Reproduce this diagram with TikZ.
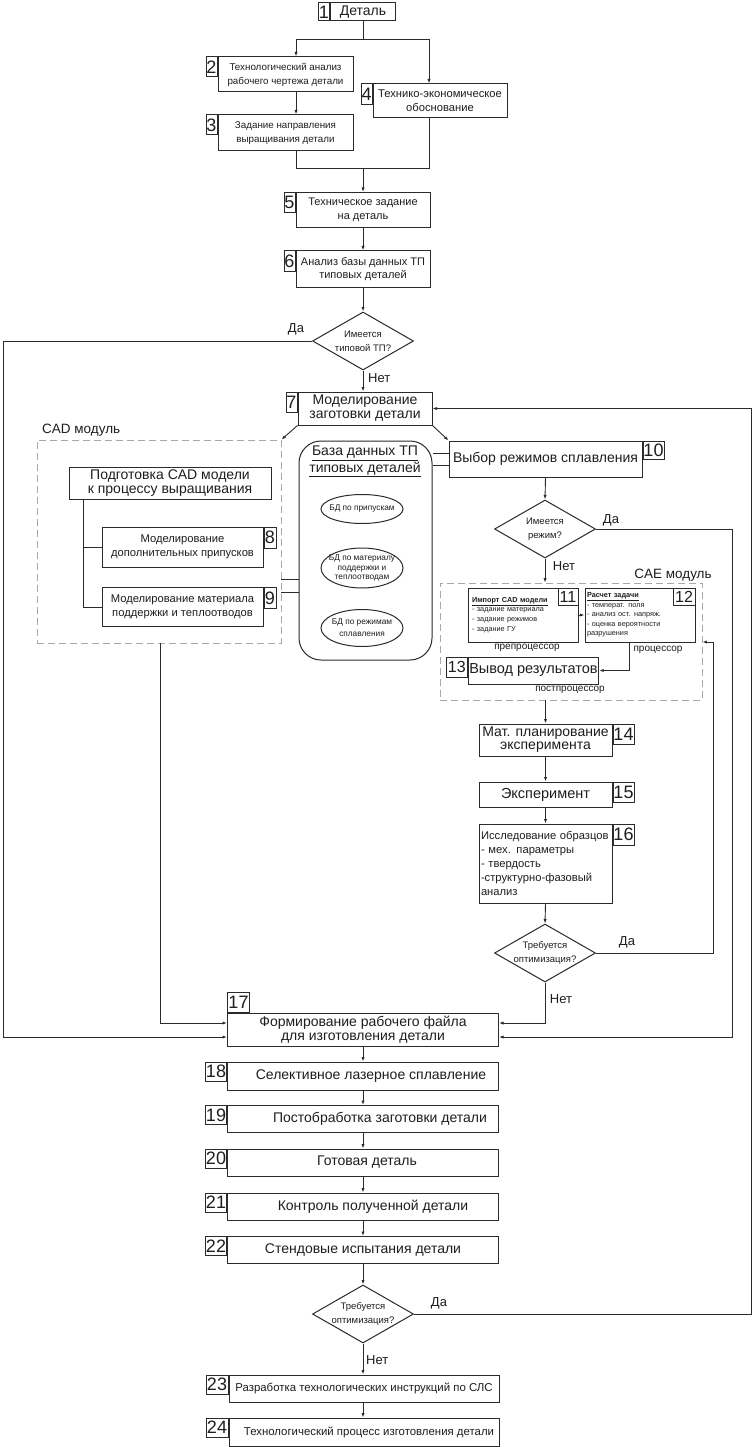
\documentclass[tikz,border=0pt]{standalone}
\usepackage{fontspec}
\setmainfont{Liberation Sans}
\usetikzlibrary{arrows.meta,shapes.geometric,calc}
\definecolor{lc}{HTML}{2B2B2B}
\definecolor{tc}{HTML}{1E1E1E}
\definecolor{dc}{HTML}{A8A8A8}
\newcommand{\fz}[2]{\fontsize{#1}{#2}\selectfont}
\begin{document}
\begin{tikzpicture}[x=1pt,y=-1pt,
  ln/.style={draw=lc, line width=0.9pt},
  arr/.style={ln, -{Latex[length=4.5pt,width=3.2pt]}},
  box/.style={draw=lc, line width=1pt, inner sep=1pt, align=center, text=tc},
  nb/.style={draw=lc, line width=1pt, inner sep=0pt, text=tc, font=\fz{18}{18}},
  nbs/.style={draw=lc, line width=1pt, inner sep=0pt, text=tc, font=\fz{16}{16}},
  dia/.style={diamond, draw=lc, line width=1pt, inner sep=0pt, minimum width=101, minimum height=58},
  dtxt/.style={align=center, text=tc, inner sep=0pt, font=\fz{9.5}{14}},
  dbox/.style={draw=dc, line width=0.8pt, dash pattern=on 7pt off 4pt},
  lab/.style={text=tc, font=\fz{13}{14}, inner sep=0pt},
  sub/.style={text=tc, font=\fz{10}{12}, inner sep=0pt},
  ell/.style={ellipse, draw=lc, line width=1pt, inner sep=0pt, minimum width=82},
  etxt/.style={align=center, text=tc, inner sep=0pt, font=\fz{8.3}{9.3}}
]
\useasboundingbox[fill=white] (0,0) rectangle (755,1447);

% ---------- top part ----------
\node[box, minimum width=65, minimum height=18, font=\fz{14}{14}] (b1) at (363,12) {Деталь};
\node[nb, minimum width=11, minimum height=18, anchor=north east] (n1) at (b1.north west) {1};

\node[box, minimum width=135, minimum height=35, font=\fz{9.8}{14}] (b2) at (285.5,74.5)
  {Технологический анализ\\рабочего чертежа детали};
\node[nb, minimum width=11, minimum height=20, anchor=north east] (n2) at (b2.north west) {2};

\node[box, minimum width=135, minimum height=36, font=\fz{9.8}{14}] (b3) at (285.5,133)
  {Задание направления\\выращивания детали};
\node[nb, minimum width=11, minimum height=20, anchor=north east] (n3) at (b3.north west) {3};

\node[box, minimum width=134, minimum height=34, font=\fz{11.2}{14}] (b4) at (440,101)
  {Технико-экономическое\\обоснование};
\node[nb, minimum width=11, minimum height=21, anchor=north east] (n4) at (b4.north west) {4};

\node[box, minimum width=134, minimum height=35, font=\fz{11}{13.5}] (b5) at (363,210)
  {Техническое задание\\на деталь};
\node[nb, minimum width=11, minimum height=20, anchor=north east] (n5) at (b5.north west) {5};

\node[box, minimum width=134, minimum height=36, font=\fz{11}{13.5}] (b6) at (363,269)
  {Анализ базы данных ТП\\типовых деталей};
\node[nb, minimum width=11, minimum height=20, anchor=north east] (n6) at (b6.north west) {6};

\node[dia] (d1) at (363,341) {};
\node[dtxt] (d1t) at (d1.center) {Имеется\\типовой ТП?};
\node[lab] (l1da) at (296,329) {Да};
\node[lab, anchor=west] (l1net) at (368,378) {Нет};

\node[box, minimum width=134, minimum height=33, font=\fz{14}{14}] (b7) at (365,408.5)
  {Моделирование\\заготовки детали};
\node[nb, minimum width=11, minimum height=20, anchor=north east] (n7) at (b7.north west) {7};

% ---------- CAD module ----------
\node[dbox, minimum width=244, minimum height=203] (cad) at (159,541.5) {};
\node[lab, anchor=west, font=\fz{13.5}{14}] (cadl) at (42,430) {CAD модуль};
\node[box, minimum width=202, minimum height=32, font=\fz{14}{14}] (bp) at (170,483)
  {Подготовка CAD модели\\к процессу выращивания};
\node[box, minimum width=161, minimum height=40, font=\fz{11.2}{14}] (b8) at (182.5,547)
  {Моделирование\\дополнительных припусков};
\node[nb, minimum width=12, minimum height=21, anchor=north west] (n8) at (b8.north east) {8};
\node[box, minimum width=161, minimum height=39, font=\fz{11.2}{14}] (b9) at (182.5,607)
  {Моделирование материала\\поддержки и теплоотводов};
\node[nb, minimum width=12, minimum height=21, anchor=north west] (n9) at (b9.north east) {9};
\coordinate (tr0) at (83,499);
\coordinate (tr1) at (83,547);
\draw[ln] (tr0) |- (b9.west);
\draw[ln] (tr1) -- (b8.west);

% ---------- database ----------
\node[draw=lc, line width=1pt, rounded corners=22pt, minimum width=133, minimum height=219] (db) at (365.5,550.5) {};
\node[text=tc, font=\fz{14}{14}, align=center, inner sep=0pt, anchor=north] (dbt) at (365,446)
  {\underline{База данных ТП}\\\underline{типовых деталей}};
\node[ell, minimum height=29] (e1) at (362,509) {};
\node[etxt] (e1t) at (e1.center) {БД по припускам};
\node[ell, minimum height=40] (e2) at (362,568) {};
\node[etxt] (e2t) at (e2.center) {БД по материалу\\поддержки и\\теплоотводам};
\node[ell, minimum height=37] (e3) at (362,628) {};
\node[etxt, font=\fz{8.3}{12}] (e3t) at (e3.center) {БД по режимам\\сплавления};
\draw[ln] ([yshift=-37.5]cad.east) -- ([yshift=-37.5]cad.east -| db.west);
\draw[ln] ([yshift=-50.5]cad.east) -- ([yshift=-50.5]cad.east -| db.west);

% ---------- right branch ----------
\node[box, minimum width=193, minimum height=36, font=\fz{14}{14}] (b10) at (545.5,459)
  {Выбор режимов сплавления};
\node[nb, minimum width=21, minimum height=18, anchor=north west] (n10) at (b10.north east) {10};
\draw[ln] ([yshift=6]b10.west) -- ([yshift=6]b10.west -| db.east);
\draw[ln] ([yshift=-6]b10.west) -- ([yshift=-6]b10.west -| db.east);

\node[dia] (d2) at (545,529) {};
\node[dtxt] (d2t) at (d2.center) {Имеется\\режим?};
\node[lab] (l2da) at (611,520) {Да};
\node[lab] (l2net) at (564,566) {Нет};

% CAE module
\node[dbox, minimum width=262, minimum height=117] (cae) at (571,641.5) {};
\node[lab, font=\fz{13.5}{14}] (cael) at (673,575) {CAE модуль};
\node[box, minimum width=110, minimum height=54, align=left, text width=102, inner sep=2.5pt, font=\fz{7.3}{9.7}] (b11) at (523,615)
  {\textbf{\underline{Импорт CAD модели}}\\- задание материала\\- задание режимов\\- задание ГУ};
\node[nbs, minimum width=20, minimum height=17, anchor=north east] (n11) at (b11.north east) {11};
\node[box, minimum width=110, minimum height=54, align=left, text width=106, inner sep=1.5pt, font=\fz{7.3}{9.5}] (b12) at (640,615)
  {\textbf{\underline{Расчет задачи}}\\- температ. поля\\- анализ ост. напряж.\\- оценка вероятности\\разрушения};
\node[nbs, minimum width=22, minimum height=17, anchor=north east] (n12) at (b12.north east) {12};
\node[sub] (pre) at (527,648) {препроцессор};
\node[sub] (pro) at (658,650) {процессор};
\node[box, minimum width=129, minimum height=27, font=\fz{14.5}{14.5}] (b13) at (533.5,670.5) {Вывод результатов};
\node[nbs, minimum width=21, minimum height=20, anchor=north east] (n13) at (b13.north west) {13};
\node[sub] (post) at (570,690) {постпроцессор};

\node[box, minimum width=133, minimum height=32, font=\fz{14}{13}] (b14) at (545.5,740)
  {Мат. планирование\\эксперимента};
\node[nb, minimum width=21, minimum height=20, anchor=north west] (n14) at (b14.north east) {14};
\node[box, minimum width=133, minimum height=25, font=\fz{14.5}{14}] (b15) at (545.5,794.5) {Эксперимент};
\node[nb, minimum width=21, minimum height=20, anchor=north west] (n15) at (b15.north east) {15};
\node[box, minimum width=133, minimum height=79, align=left, text width=129, inner sep=2pt, font=\fz{11.2}{14}] (b16) at (545.5,863.5)
  {Исследование образцов\\- мех. параметры\\- твердость\\-структурно-фазовый\\анализ};
\node[nb, minimum width=21, minimum height=21, anchor=north west] (n16) at (b16.north east) {16};

\node[dia] (d3) at (545,953) {};
\node[dtxt] (d3t) at (d3.center) {Требуется\\оптимизация?};
\node[lab] (l3da) at (627,942) {Да};
\node[lab] (l3net) at (561,999) {Нет};

% ---------- lower column ----------
\node[box, minimum width=271, minimum height=33, font=\fz{14}{14}] (b17) at (363,1029.5)
  {Формирование рабочего файла\\для изготовления детали};
\node[nb, minimum width=22, minimum height=20, anchor=south west] (n17) at (b17.north west) {17};
\node[box, minimum width=271, minimum height=28, font=\fz{14}{14}] (b18) at (363,1076) {\hspace*{16pt}Селективное лазерное сплавление};
\node[nb, minimum width=21, minimum height=19, anchor=north east] (n18) at (b18.north west) {18};
\node[box, minimum width=271, minimum height=27, font=\fz{14}{14}] (b19) at (363,1119) {\hspace*{34pt}Постобработка заготовки детали};
\node[nb, minimum width=21, minimum height=19, anchor=north east] (n19) at (b19.north west) {19};
\node[box, minimum width=271, minimum height=27, font=\fz{14}{14}] (b20) at (363,1162.5) {\hspace*{8pt}Готовая деталь};
\node[nb, minimum width=21, minimum height=19, anchor=north east] (n20) at (b20.north west) {20};
\node[box, minimum width=271, minimum height=27, font=\fz{14}{14}] (b21) at (363,1206.5) {\hspace*{20pt}Контроль полученной детали};
\node[nb, minimum width=21, minimum height=19, anchor=north east] (n21) at (b21.north west) {21};
\node[box, minimum width=271, minimum height=27, font=\fz{14}{14}] (b22) at (363,1250) {Стендовые испытания детали};
\node[nb, minimum width=21, minimum height=19, anchor=north east] (n22) at (b22.north west) {22};

\node[dia] (d4) at (363,1314) {};
\node[dtxt] (d4t) at (d4.center) {Требуется\\оптимизация?};
\node[lab] (l4da) at (439,1303) {Да};
\node[lab, anchor=west] (l4net) at (366,1360) {Нет};

\node[box, minimum width=270, minimum height=27, font=\fz{11.4}{11.4}] (b23) at (364,1388.5) {Разработка технологических инструкций по СЛС};
\node[nb, minimum width=22, minimum height=19, anchor=north east] (n23) at (b23.north west) {23};
\node[box, minimum width=270, minimum height=28, font=\fz{11.4}{11.4}] (b24) at (364,1432) {\hspace*{10pt}Технологический процесс изготовления детали};
\node[nb, minimum width=22, minimum height=19, anchor=north east] (n24) at (b24.north west) {24};

% ---------- connectors ----------
\coordinate (j1) at (363,39);
\coordinate (j2) at (363,168);
\draw[ln] (b1.south) -- (j1);
\draw[arr] (j1) -| ([xshift=10.5]b2.north);
\draw[arr] (j1) -| ([xshift=-11]b4.north);
\draw[arr] ([xshift=10.5]b2.south) -- ([xshift=10.5]b3.north);
\draw[ln] ([xshift=10.5]b3.south) |- (j2);
\draw[ln] ([xshift=-11]b4.south) |- (j2);
\draw[arr] (j2) -- (b5.north);
\draw[arr] (b5.south) -- (b6.north);
\draw[arr] (b6.south) -- (d1.north);
\draw[arr] (d1.south) -- (d1.south |- b7.north);

\coordinate (L1) at (3,341);
\draw[arr] (d1.west) -- (L1) |- ([yshift=-7.5]b17.west);
\draw[arr] (b7.south west) -- (cad.north east);
\draw[arr] (b7.south east) -- (b10.north west);
\draw[arr] ([xshift=1]cad.south) |- ([yshift=6.5]b17.west);

\draw[arr] (b10.south) -- (d2.north);
\coordinate (R2) at (732,529);
\draw[arr] (d2.east) -- (R2) |- ([yshift=-7.5]b17.east);
\draw[arr] (d2.south) -- (d2.south |- cae.north);
\draw[arr] (b11.east) -- (b12.west);
\draw[arr] ([xshift=-11]b12.south) |- (b13.east);
\draw[arr] (b14.north |- cae.south) -- (b14.north);
\draw[arr] (b14.south) -- (b15.north);
\draw[arr] (b15.south) -- (b16.north);
\draw[arr] (b16.south) -- (d3.north);
\coordinate (R3) at (713,642);
\draw[arr] (d3.east) -| (R3) -- (R3 -| cae.east);
\draw[arr] (d3.south) |- ([yshift=6.5]b17.east);

\draw[arr] (b17.south) -- (b18.north);
\draw[arr] (b18.south) -- (b19.north);
\draw[arr] (b19.south) -- (b20.north);
\draw[arr] (b20.south) -- (b21.north);
\draw[arr] (b21.south) -- (b22.north);
\draw[arr] (b22.south) -- (d4.north);
\draw[arr] (d4.south) -- (d4.south |- b23.north);
\draw[arr] (b23.south -| d4.south) -- (d4.south |- b24.north);
\coordinate (R4) at (751,1314);
\draw[arr] (d4.east) -- (R4) |- (b7.east);
\end{tikzpicture}
\end{document}
